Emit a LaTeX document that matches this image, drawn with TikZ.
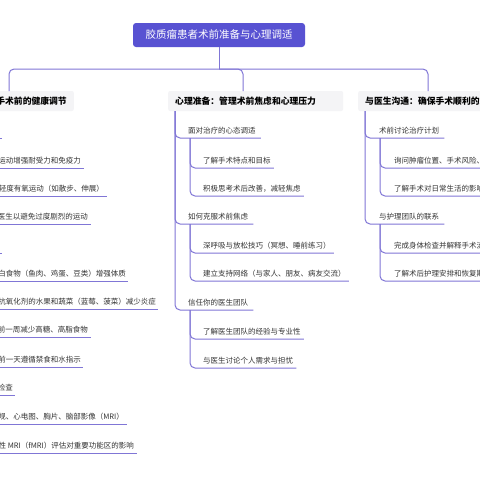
\documentclass[tikz,border=0pt]{standalone}
\usepackage{fontspec}
\newfontfamily\cjk{Noto Sans CJK SC}
\definecolor{rootc}{RGB}{88,82,210}
\definecolor{linec}{RGB}{128,118,214}
\definecolor{boxc}{RGB}{244,244,246}
\definecolor{txtc}{RGB}{51,51,51}
\begin{document}
\begin{tikzpicture}[x=1pt,y=-1pt,
  conn/.style={draw=linec, line width=1pt, rounded corners=5pt},
  item/.style={font=\cjk\fontsize{7.5}{9}\selectfont, text=txtc, inner sep=0pt},
  cat/.style={font=\cjk\bfseries\fontsize{8.8}{11}\selectfont, text=black, fill=boxc,
    minimum height=20pt, inner xsep=7pt, inner ysep=0pt, rounded corners=2pt},
  rootbox/.style={font=\cjk\fontsize{10.5}{12}\selectfont, text=white, fill=rootc,
    minimum width=172pt, minimum height=24pt, rounded corners=3pt, inner sep=0pt}]
\useasboundingbox (0,0) rectangle (480,480);
\clip (0,0) rectangle (480,480);
\fill[white] (0,0) rectangle (480,480);

% root and branches
\node[rootbox] (root) at (219,35) {胶质瘤患者术前准备与心理调适};
\node[cat, anchor=east] (left) at (74,101) {手术前的健康调节};
\node[cat, anchor=west, text width=161pt, align=left] (mid) at (168,101) {心理准备：管理术前焦虑和心理压力};
\node[cat, anchor=west] (right) at (358,101) {与医生沟通：确保手术顺利的关};

\coordinate (hub) at (219,69);
\coordinate (dl) at (9,91);
\coordinate (dm) at (243,91);
\coordinate (dr) at (428,91);
\draw[conn] (root.south) -- (hub);
\draw[conn] (hub) -| (dl);
\draw[conn] (hub) -| (dm);
\draw[conn] (hub) -| (dr);

% ---------- middle branch ----------
\node[item, anchor=west] (m1) at (188,131) {面对治疗的心态调适};
\node[item, anchor=west] (m11) at (203,161) {了解手术特点和目标};
\node[item, anchor=west] (m12) at (203,189) {积极思考术后改善，减轻焦虑};
\node[item, anchor=west] (m2) at (188,217) {如何克服术前焦虑};
\node[item, anchor=west] (m21) at (203,246) {深呼吸与放松技巧（冥想、睡前练习）};
\node[item, anchor=west] (m22) at (203,274) {建立支持网络（与家人、朋友、病友交流）};
\node[item, anchor=west] (m3) at (188,303) {信任你的医生团队};
\node[item, anchor=west] (m31) at (203,332) {了解医生团队的经验与专业性};
\node[item, anchor=west] (m32) at (203,361) {与医生讨论个人需求与担忧};

\coordinate (mv) at (175,111);
\coordinate (m1b) at (190,138);
\coordinate (m2b) at (190,224);
\coordinate (m3b) at (190,310);
\draw[conn] (mv) |- ([xshift=5pt,yshift=-7pt]m1.east);
\draw[conn] (mv) |- ([xshift=5pt,yshift=-7pt]m2.east);
\draw[conn] (mv) |- ([xshift=5pt,yshift=-7pt]m3.east);
\draw[conn] (m1b) |- ([xshift=3pt,yshift=-7pt]m11.east);
\draw[conn] (m1b) |- ([xshift=3pt,yshift=-7pt]m12.east);
\draw[conn] (m2b) |- ([xshift=3pt,yshift=-7pt]m21.east);
\draw[conn] (m2b) |- ([xshift=3pt,yshift=-7pt]m22.east);
\draw[conn] (m3b) |- ([xshift=3pt,yshift=-7pt]m31.east);
\draw[conn] (m3b) |- ([xshift=3pt,yshift=-7pt]m32.east);

% ---------- right branch ----------
\node[item, anchor=west] (r1) at (379,131) {术前讨论治疗计划};
\node[item, anchor=west] (r11) at (394,161) {询问肿瘤位置、手术风险、};
\node[item, anchor=west] (r12) at (394,189) {了解手术对日常生活的影响};
\node[item, anchor=west] (r2) at (379,217) {与护理团队的联系};
\node[item, anchor=west] (r21) at (394,246) {完成身体检查并解释手术流};
\node[item, anchor=west] (r22) at (394,274) {了解术后护理安排和恢复期};

\coordinate (rv) at (365,111);
\coordinate (r1b) at (380,138);
\coordinate (r2b) at (380,224);
\draw[conn] (rv) |- ([xshift=5pt,yshift=-7pt]r1.east);
\draw[conn] (rv) |- ([xshift=5pt,yshift=-7pt]r2.east);
\draw[conn] (r1b) |- ([xshift=10pt,yshift=-7pt]r11.east);
\draw[conn] (r1b) |- ([xshift=10pt,yshift=-7pt]r12.east);
\draw[conn] (r2b) |- ([xshift=10pt,yshift=-7pt]r21.east);
\draw[conn] (r2b) |- ([xshift=10pt,yshift=-7pt]r22.east);

% ---------- left branch (cut by the frame) ----------
\node[item, anchor=east] (l1) at (81,161) {运动增强耐受力和免疫力};
\node[item, anchor=east] (l2) at (104,189) {轻度有氧运动（如散步、伸展）};
\node[item, anchor=east] (l3) at (88,217) {医生以避免过度剧烈的运动};
\node[item, anchor=east] (l4) at (126,274) {白食物（鱼肉、鸡蛋、豆类）增强体质};
\node[item, anchor=east] (l5) at (156,302) {抗氧化剂的水果和蔬菜（蓝莓、菠菜）减少炎症};
\node[item, anchor=east] (l6) at (88,330) {前一周减少高糖、高脂食物};
\node[item, anchor=east] (l7) at (81,360) {前一天遵循禁食和水指示};
\node[item, anchor=east] (l8) at (13,388) {检查};
\node[item, anchor=east] (l9) at (124,417) {规、心电图、胸片、脑部影像（MRI）};
\node[item, anchor=east] (l10) at (134,446) {性 MRI（fMRI）评估对重要功能区的影响};

\coordinate (lo1) at (-10,138);
\coordinate (lo1e) at (1.5,138);
\coordinate (lo2) at (-10,253);
\coordinate (lo2e) at (1.5,253);
\draw[conn] (lo1) -- (lo1e);
\draw[conn] (lo2) -- (lo2e);
\foreach \n/\s in {l1/3,l2/3,l3/3,l4/2,l5/2,l6/3,l7/2,l8/2,l9/3,l10/3}{
  \draw[conn] ([yshift=-7pt]\n.east -| -10,0) -- ([xshift=\s pt,yshift=-7pt]\n.east);
}
\end{tikzpicture}
\end{document}
